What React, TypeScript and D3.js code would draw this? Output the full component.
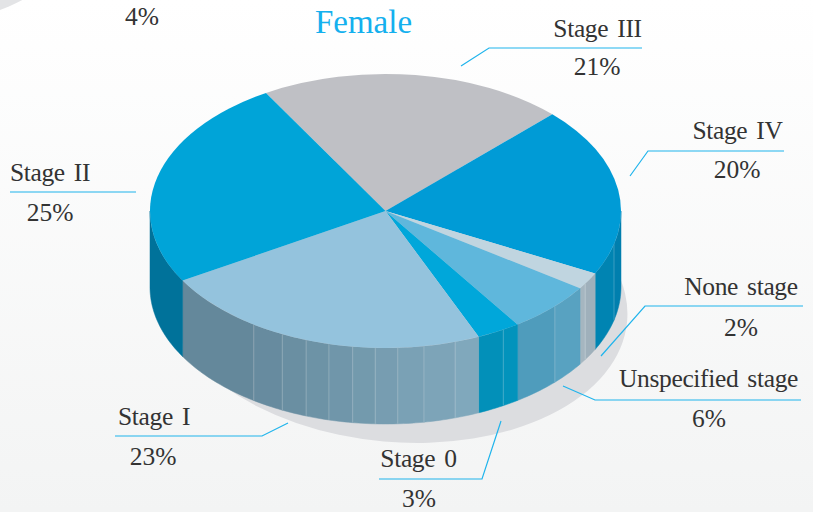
import React from "react";
import * as d3 from "d3";

const W = 813, H = 512;
const stages = ["Stage III", "Stage IV", "None stage", "Unspecified stage", "Stage 0", "Stage I", "Stage II"];
const shares = [21, 20, 2, 6, 3, 23, 25];
const topColors = ["#bfc0c5", "#009bd6", "#c0d5e0", "#5fb7dc", "#00a7da", "#94c3dd", "#00a4d8"];
const sideDark = ["#bfc0c5", "#0084b2", "#a5b6c0", "#4f9cbc", "#0290b9", "#64889b", "#00729a"];
const sideLight = ["#bfc0c5", "#007fae", "#9fb0bb", "#58a2c1", "#0293bc", "#80a8bc", "#00729a"];
const facetDegrees = [
  [],
  [0, 14, 27.1],
  [27.1, 32, 34.3],
  [34.3, 44, 55.9],
  [55.9, 60, 66.7],
  [66.7, 72.8, 80.6, 87, 92.5, 98, 103.9, 109.7, 116, 124, 149.5],
  [149.5, 180],
];
const labelCenters = [[597.5, 37, 597, 75], [737.5, 139, 737, 178], [741, 295, 741, 336], [708.5, 387, 709, 427], [418.5, 467, 419, 507], [154, 425, 153, 465], [50, 181, 50, 221]];
const leaders: [number, number][][] = [
  [[461, 66], [489, 48], [642, 48]],
  [[630, 176], [648, 151], [784, 151]],
  [[601, 356], [645, 306], [803, 306]],
  [[563, 386], [595, 400], [801, 400]],
  [[501, 421], [482, 479], [379, 479]],
  [[288, 423], [262, 436], [115, 436]],
  [[10, 192], [136, 192]],
];

const cx = 385.5, cy = 211, rx = 235.5, ry = 137, depth = 76;
const startAngle = (-120.5 + 90) * Math.PI / 180;

export default function App() {
  const pie = d3.pie<number>().sort(null).startAngle(startAngle).endAngle(startAngle + 2 * Math.PI)(shares);
  const arc = d3.arc<d3.PieArcDatum<number>>().innerRadius(0).outerRadius(rx);
  const wall = d3.area<number>()
    .x(t => cx + rx * Math.cos(t * Math.PI / 180))
    .y0(t => cy + ry * Math.sin(t * Math.PI / 180))
    .y1(t => cy + depth + ry * Math.sin(t * Math.PI / 180));
  const leaderLine = d3.line();
  const facets: { d: string; fill: string; edge: string | null }[] = [];
  facetDegrees.forEach((edges, i) => {
    const color = d3.interpolateLab(sideLight[i], sideDark[i]);
    edges.slice(0, -1).forEach((a, j) => {
      const b = edges[j + 1];
      facets.push({
        d: wall(d3.range(a, b, 1).concat(b)) as string,
        fill: color(edges.length > 2 ? j / (edges.length - 2) : 0),
        edge: j > 0 ? (wall([a, a]) as string) : null,
      });
    });
  });
  const serif = "'Liberation Serif', serif";
  return (
    <svg width={W} height={H} style={{ position: "absolute", left: 0, top: 0, display: "block" }} fontFamily={serif}>
      <defs>
        <linearGradient id="bg" x1="0" y1="0" x2="0" y2="1">
          <stop offset="0" stopColor="#ffffff" />
          <stop offset="1" stopColor="#f3f4f4" />
        </linearGradient>
      </defs>
      <rect width={W} height={H} fill="url(#bg)" />
      <ellipse cx={-95} cy={-95} rx={187} ry={122} fill="#e3e4e6" />
      <ellipse cx={396} cy={301} rx={232} ry={141} transform="rotate(5 396 301)" fill="#dcdde0" />
      {facets.map((f, i) => <path key={i} d={f.d} fill={f.fill} stroke={f.fill} strokeWidth={0.5} />)}
      {facets.map((f, i) => f.edge && <path key={i} d={f.edge} stroke="#ffffff" strokeOpacity={0.12} strokeWidth={1} fill="none" />)}
      <g transform={`translate(${cx},${cy}) scale(1,${ry / rx})`}>
        {pie.map((p, i) => <path key={i} d={arc(p) as string} fill={topColors[i]} />)}
      </g>
      {leaders.map((l, i) => <path key={i} d={leaderLine(l) as string} fill="none" stroke="#1fb4ec" strokeWidth={1.2} />)}
      <text x={363.5} y={33} textAnchor="middle" fontSize={33} fill="#14b0ee">Female</text>
      <text x={142} y={25} textAnchor="middle" fontSize={25.5} fill="#333">4%</text>
      {stages.map((s, i) => {
        const [x1, y1, x2, y2] = labelCenters[i];
        return (
          <g key={s} fontSize={25.5} fill="#333">
            <text x={x1} y={y1} textAnchor="middle" wordSpacing={3} letterSpacing={-0.35}>{s}</text>
            <text x={x2} y={y2} textAnchor="middle">{shares[i]}%</text>
          </g>
        );
      })}
    </svg>
  );
}
